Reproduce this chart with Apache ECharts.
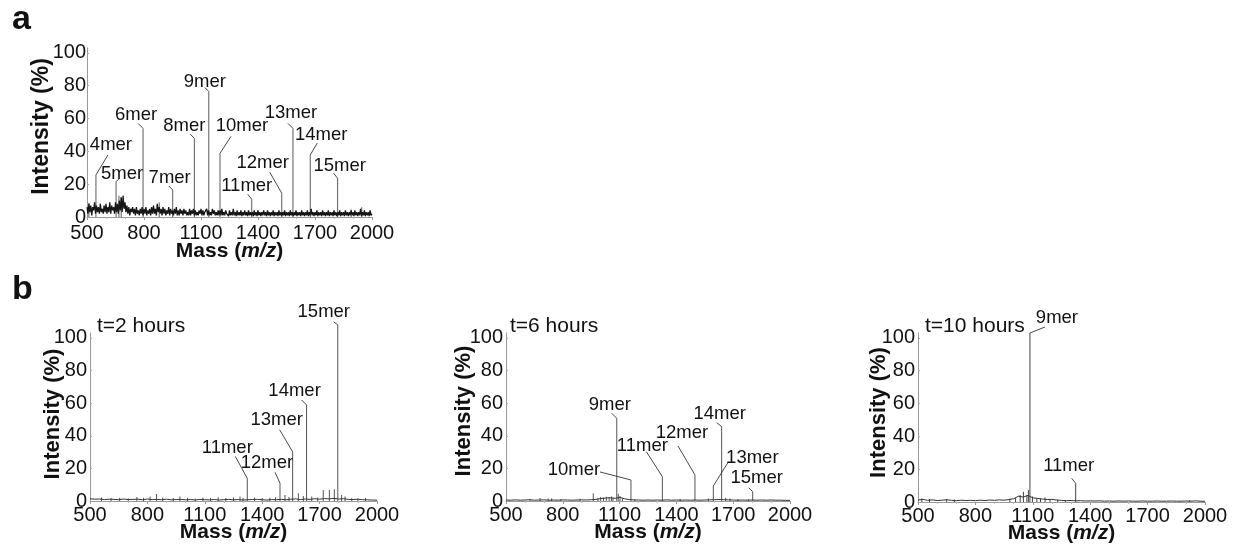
<!DOCTYPE html>
<html><head><meta charset="utf-8">
<script src="https://cdn.jsdelivr.net/npm/echarts@6/dist/echarts.min.js"></script>
<style>html,body{margin:0;padding:0;background:#fff}#c{width:1238px;height:545px}</style>
</head><body><div id="c"></div><script>
// ================= DATA =================
const xTicks = [500, 800, 1100, 1400, 1700, 2000];
const yTicks = [0, 20, 40, 60, 80, 100];

// panel a : baseline noise sampled every 5 m/z from 500 to 2000
const noiseStepA = 5;
const noiseA = [
 6,2,8,3,7,1,6,4,9,2,7,3,6,2,8,3,5,2,7,3,
 8,2,6,3,9,2,7,4,6,2,9,3,8,2,10,4,12,3,13,5,
 9,3,7,2,6,1,5,3,6,2,5,1,6,2,4,1,5,2,6,1,
 5,2,6,1,4,2,5,1,6,2,7,2,5,1,8,3,6,2,5,1,
 6,2,5,1,4,2,6,1,5,2,4,1,5,2,6,1,4,1,5,2,
 4,1,5,2,4,1,3,1,5,1,4,2,5,1,4,1,3,1,4,2,
 5,1,4,1,3,2,5,1,4,1,3,1,5,2,4,1,3,1,4,1,
 4,1,5,1,3,1,4,2,3,0.5,4,1,3,1,5,1,3,0.5,4,1,
 3,1,4,0.5,3,1,4,1,3,0.5,4,1,3,1,3,0.5,4,1,3,0.5,
 4,1,3,0.5,3,1,4,1,3,0.5,4,1,3,0.5,3,1,4,0.5,3,1,
 3,0.5,4,1,3,0.5,3,1,4,0.5,3,1,3,0.5,4,1,3,0.5,3,1,
 4,0.5,3,1,3,0.5,4,1,3,0.5,3,1,4,0.5,3,1,5,1,3,0.5,
 3,1,4,0.5,3,1,3,0.5,4,1,3,0.5,3,1,4,0.5,3,1,3,0.5,
 4,1,3,0.5,3,1,4,0.5,3,1,3,0.5,4,1,3,0.5,3,1,4,1,
 3,0.5,4,1,3,0.5,3,1,5,0.5,3,1,4,0.5,3,1,3,0.5,4,1,
 2
];
const peakMassA  = [547, 653, 795, 951, 1065, 1141, 1200, 1367, 1525, 1584, 1675, 1819];
const peakIntA   = [25.6, 21.5, 54, 16.5, 48, 76.5, 38.8, 10.8, 14.5, 54, 37.8, 23.6];
const peakLabelA = ['4mer','5mer','6mer','7mer','8mer','9mer','10mer','11mer','12mer','13mer','14mer','15mer'];
const minorMassA = [510, 668, 680, 880, 1890, 1946];
const minorIntA  = [8.5, 13, 12, 9, 4.5, 6];

// panel b : baselines sampled every 25 m/z from 500 to 2000
const baseStepB = 25;
const baseB1 = [
 1.4,1.1,1.2,0.9,1.1,1.0,0.8,1.2,0.9,1.0,
 1.1,0.8,1.2,0.9,1.0,0.8,1.1,0.7,0.9,1.0,
 0.7,0.9,0.6,1.0,0.8,0.7,0.9,0.6,0.8,1.0,
 0.7,0.9,0.6,0.8,0.9,1.0,0.8,0.6,0.9,0.8,
 1.0,0.8,1.1,1.3,0.9,1.2,1.0,1.4,1.1,1.5,
 1.3,1.6,1.2,1.4,1.0,0.9,1.1,0.8,0.7,0.6,
 0.5
];
const baseB2 = [
 0.6,0.5,0.7,0.5,0.6,0.8,0.5,0.6,0.7,0.5,
 0.6,0.5,0.7,0.6,0.5,0.6,0.7,0.6,0.8,1.0,
 1.5,1.8,2.0,1.6,2.2,1.4,0.9,0.7,0.6,0.5,
 0.6,0.5,0.6,0.5,0.7,0.5,0.6,0.5,0.6,0.5,
 0.6,0.5,0.6,0.7,0.8,0.9,0.8,0.7,0.6,0.5,
 0.6,0.5,0.6,0.5,0.6,0.5,0.6,0.5,0.5,0.4,
 0.4
];
const baseB3 = [
 1.2,1.6,1.0,1.3,0.9,1.1,1.4,1.0,0.8,1.1,
 0.9,1.0,0.8,1.1,0.9,1.2,1.0,1.3,1.1,1.5,
 2.0,3.5,3.0,4.0,2.5,2.2,1.8,1.5,1.6,1.2,
 1.0,0.8,0.9,0.7,0.8,0.6,0.7,0.6,0.7,0.5,
 0.6,0.5,0.6,0.5,0.6,0.5,0.5,0.6,0.5,0.5,
 0.6,0.5,0.5,0.6,0.5,0.5,0.6,0.5,0.7,0.5,
 0.4
];

const peakMassB1  = [1322, 1493, 1559, 1632, 1795];
const peakIntB1   = [13.9, 10.9, 30.2, 58.9, 108];
const peakLabelB1 = ['11mer','12mer','13mer','14mer','15mer'];
const minorMassB1 = [560,610,655,700,745,780,814,848,880,935,970,1010,1050,1090,1130,1170,1210,1250,1284,1300,1360,1400,1440,1470,1519,1540,1589,1615,1659,1690,1719,1751,1777,1815,1833,1868,1900,1940];
const minorIntB1  = [2.2,1.8,2.0,1.6,2.4,2.0,2.7,4.3,2.2,1.8,2.7,2.0,1.6,2.2,1.8,2.3,1.9,2.1,2.7,2.0,2.2,1.8,2.0,2.5,3.7,2.5,4.7,3.0,2.7,2.2,6.8,6.8,7.2,3.7,2.7,1.7,1.5,1.8];

const peakMassB2  = [1085, 1160, 1326, 1498, 1595, 1639, 1803];
const peakIntB2   = [50.7, 12.9, 14.9, 16, 9.2, 45.6, 5.7];
const peakLabelB2 = ['9mer','10mer','11mer','12mer','13mer','14mer','15mer'];
const minorMassB2 = [627,680,723,741,790,891,961,986,1000,1015,1030,1045,1057,1065,1093,1102,1115,1180,1420,1570,1660,1683,1725,1780];
const minorIntB2  = [1.2,1.8,1.6,1.5,1.0,1.4,4.7,1.8,2.5,2.2,2.6,2.3,2.8,2.0,4.5,3.0,1.5,1.0,1.2,1.5,1.8,1.6,1.2,1.0];

const peakMassB3  = [1085, 1324];
const peakIntB3   = [103, 11.4];
const peakLabelB3 = ['9mer','11mer'];
const minorMassB3 = [520,560,650,690,980,1010,1034,1051,1069,1077,1098,1121,1140,1164,1190,1230,1270,1920];
const minorIntB3  = [2.2,1.8,1.8,1.5,2.0,2.4,4.3,6.3,4.3,7.3,3.3,2.3,2.0,2.7,1.6,1.4,1.2,1.0];

// ================= LAYOUT (pixel offsets of labels from peak tops) =================
// [textDx, textDy, leaderEndDx, leaderEndDy]
const labelLayoutA = [[15,-30,12,-20],[6,-8,3,-3],[-7,-13,-5,-5],[-3,-12,-4,-4],[-10,-12,-4,-4],[-4,-10,-4,-4],
  [22,-27,11,-17],[-5,-13,-4,-5],[-19,-30,-12,-21],[-2,-15,-5,-5],[11,-20,7,-12],[2,-12,-4,-5]];
const labelLayoutB1 = [[-20,-30,-12,-22],[-13,-20,-5,-11],[-16,-32,-13,-22],[-12,-14,-5,-5],[-14,-13,-4,-3]];
const labelLayoutB2 = [[-7,-13,-5,-5],[-57,-10,-31,-8],[-20,-31,-16,-25],[-13,-42,-17,-29],[39,-28,15,-24],[-2,-13,-5,-4],[4,-14,-4,-4]];
const labelLayoutB3 = [[27,-15,15,-6],[-7,-17,-4,-5]];

const FONT = "'Liberation Sans', Arial, Helvetica, sans-serif";
const grids = [
  {left: 87, top: 48, width: 285, height: 169},
  {left: 90, top: 333, width: 287, height: 168},
  {left: 506, top: 333, width: 284, height: 168},
  {left: 918, top: 333, width: 287, height: 169}
];
const yNameCfg = [
  {gap: 34, shift: 12, size: 23},
  {gap: 26, shift: 6, size: 22},
  {gap: 31, shift: 12, size: 22},
  {gap: 28, shift: 10, size: 22}
];
const xNameCfg = [{gap: 24, margin: 6}, {gap: 21, margin: 4}, {gap: 21, margin: 4}, {gap: 21, margin: 4}];

function baselineData(vals, step) {
  return vals.map((v, i) => [500 + i * step, v]);
}
function stickData(mainM, mainI, minM, minI) {
  const d = [];
  mainM.forEach((m, i) => d.push([m, mainI[i]]));
  minM.forEach((m, i) => d.push([m, minI[i]]));
  return d;
}

const panels = [
  {base: baselineData(noiseA, noiseStepA), sticks: stickData(peakMassA, peakIntA, minorMassA, minorIntA),
   pm: peakMassA, pi: peakIntA, pl: peakLabelA, lay: labelLayoutA, baseColor: '#161616', baseWidth: 1.3, stickColor: '#5a5a5a'},
  {base: baselineData(baseB1, baseStepB), sticks: stickData(peakMassB1, peakIntB1, minorMassB1, minorIntB1),
   pm: peakMassB1, pi: peakIntB1, pl: peakLabelB1, lay: labelLayoutB1, baseColor: '#333', baseWidth: 1, stickColor: '#555'},
  {base: baselineData(baseB2, baseStepB), sticks: stickData(peakMassB2, peakIntB2, minorMassB2, minorIntB2),
   pm: peakMassB2, pi: peakIntB2, pl: peakLabelB2, lay: labelLayoutB2, baseColor: '#333', baseWidth: 1, stickColor: '#555'},
  {base: baselineData(baseB3, baseStepB), sticks: stickData(peakMassB3, peakIntB3, minorMassB3, minorIntB3),
   pm: peakMassB3, pi: peakIntB3, pl: peakLabelB3, lay: labelLayoutB3, baseColor: '#333', baseWidth: 1, stickColor: '#444'}
];

const xAxes = [], yAxes = [], series = [];
panels.forEach((p, g) => {
  const xc = xNameCfg[g];
  xAxes.push({
    type: 'value', gridIndex: g, min: 500, max: 2000, interval: 300,
    axisLine: {show: true, onZero: false, lineStyle: {color: '#9a9a9a', width: 1}},
    axisTick: {show: true, length: 3, lineStyle: {color: '#9a9a9a'}},
    minorTick: {show: true, splitNumber: 3, length: 2, lineStyle: {color: '#bbb'}},
    splitLine: {show: false},
    axisLabel: {fontSize: 20, color: '#111', fontFamily: FONT, margin: xc.margin,
      customValues: xTicks, formatter: v => String(v)},
    name: '{b|Mass (}{i|m/z}{b|)}', nameLocation: 'middle', nameGap: xc.gap, nameMoveOverlap: false,
    nameTextStyle: {rich: {
      b: {fontSize: 21, fontWeight: 'bold', fontFamily: FONT, color: '#111'},
      i: {fontSize: 21, fontWeight: 'bold', fontStyle: 'italic', fontFamily: FONT, color: '#111'}
    }}
  });
  const yc = yNameCfg[g];
  yAxes.push({
    type: 'value', gridIndex: g, min: 0, max: 103,
    axisLine: {show: true, lineStyle: {color: '#9a9a9a', width: 1}},
    axisTick: {show: true, inside: true, length: 2, lineStyle: {color: '#aaa'}, customValues: yTicks},
    splitLine: {show: false},
    axisLabel: {fontSize: 20, color: '#111', fontFamily: FONT, margin: g === 0 ? 1 : 3, customValues: yTicks,
      formatter: v => String(v)},
    name: 'Intensity (%)', nameLocation: 'middle', nameGap: yc.gap, nameMoveOverlap: false,
    nameTextStyle: {fontSize: yc.size, fontWeight: 'bold', fontFamily: FONT, color: '#111',
      padding: [0, 0, 0, yc.shift]}
  });
  series.push({
    type: 'line', xAxisIndex: g, yAxisIndex: g, data: p.base, symbol: 'none',
    lineStyle: {color: p.baseColor, width: p.baseWidth}, silent: true, z: 3
  });
  series.push({
    type: 'bar', xAxisIndex: g, yAxisIndex: g, data: p.sticks, barWidth: 1,
    itemStyle: {color: p.stickColor}, clip: false, silent: true, z: 2
  });
  const labelData = p.pm.map((m, i) => [m, p.pi[i], i]);
  series.push({
    type: 'custom', xAxisIndex: g, yAxisIndex: g, data: labelData, clip: false, silent: true, z: 5,
    encode: {x: 0, y: 1},
    renderItem: (params, api) => {
      const idx = api.value(2);
      const pt = api.coord([api.value(0), api.value(1)]);
      const off = p.lay[idx];
      return {type: 'group', children: [
        {type: 'line', shape: {x1: pt[0], y1: pt[1], x2: pt[0] + off[2], y2: pt[1] + off[3]},
         style: {stroke: '#333', lineWidth: 0.9}},
        {type: 'text', x: pt[0] + off[0], y: pt[1] + off[1],
         style: {text: p.pl[idx], fill: '#111', fontSize: 18.5, fontFamily: FONT, align: 'center', verticalAlign: 'middle'}}
      ]};
    }
  });
});

const titleTexts = [
  {text: 'a', x: 12, y: 20, size: 34, weight: 'bold'},
  {text: 'b', x: 12, y: 290, size: 34, weight: 'bold'},
  {text: 't=2 hours', x: 97, y: 326, size: 21, weight: 'normal'},
  {text: 't=6 hours', x: 510, y: 326, size: 21, weight: 'normal'},
  {text: 't=10 hours', x: 925, y: 326, size: 21, weight: 'normal'}
];

const chart = echarts.init(document.getElementById('c'), null, {renderer: 'canvas'});
chart.setOption({
  animation: false,
  backgroundColor: '#fff',
  grid: grids,
  xAxis: xAxes,
  yAxis: yAxes,
  series: series,
  graphic: titleTexts.map(t => ({
    type: 'text', x: t.x, y: t.y,
    style: {text: t.text, fontSize: t.size, fontWeight: t.weight, fontFamily: FONT, fill: '#111',
      align: 'left', verticalAlign: 'middle'}
  }))
});
</script></body></html>
